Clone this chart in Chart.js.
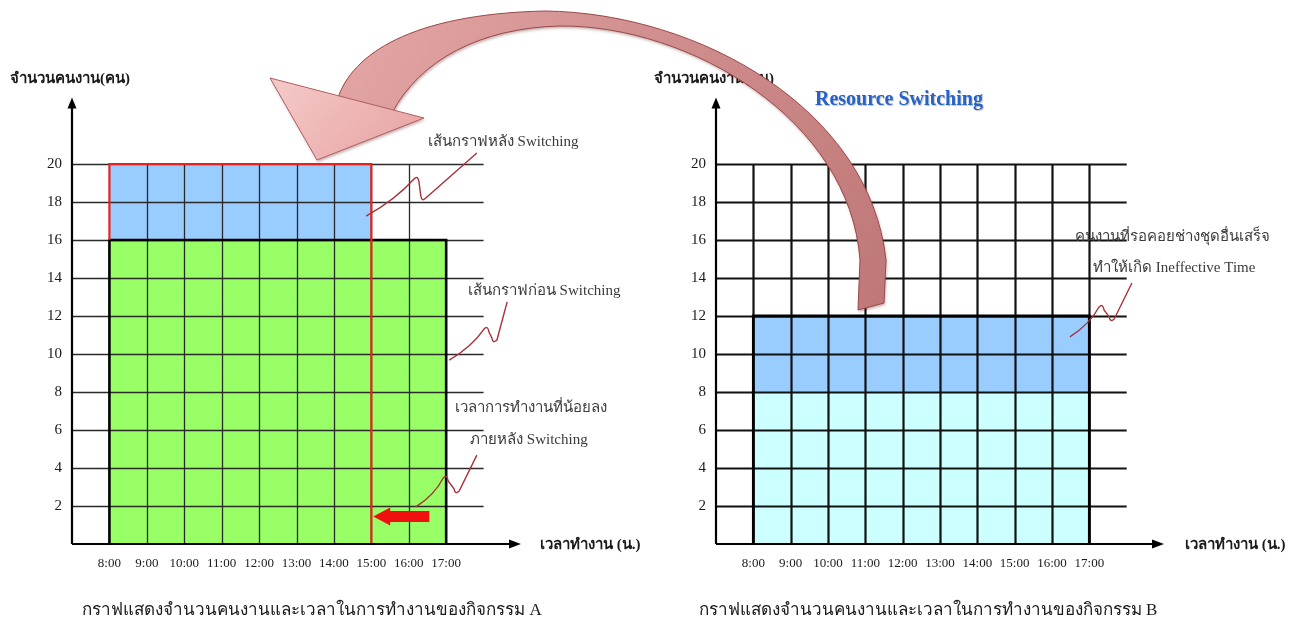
<!DOCTYPE html>
<html>
<head>
<meta charset="utf-8">
<script src="https://cdn.jsdelivr.net/npm/chart.js@4.4.1/dist/chart.umd.min.js"></script>
<style>
  html, body { margin: 0; padding: 0; background: #ffffff; }
  #stage { position: relative; width: 1298px; height: 628px; overflow: hidden; }
  #stage canvas { position: absolute; left: 0; top: 0; }
</style>
</head>
<body>
<div id="stage">
  <canvas id="chartA" width="1298" height="628"></canvas>
  <canvas id="chartB" width="1298" height="628"></canvas>
</div>
<script>
// Working hours on the x axis and crew-size ticks on the y axis
const hours = [8, 9, 10, 11, 12, 13, 14, 15, 16, 17];
const hourLabels = ['8:00', '9:00', '10:00', '11:00', '12:00', '13:00', '14:00', '15:00', '16:00', '17:00'];
const workerTicks = [2, 4, 6, 8, 10, 12, 14, 16, 18, 20];

// Activity A: crew before the switch, and the extra crew that shortens the job
const spanBeforeA = [8, 17];
const crewBeforeA = [0, 16];
const spanAfterA = [8, 15];
const crewAfterA = [16, 20];

// Activity B: crew actually working, and crew waiting on other trades
const spanB = [8, 17];
const crewWorkingB = [0, 8];
const crewIdleB = [8, 12];

const SERIF = '"Liberation Serif", "DejaVu Serif", serif';

function rectTop(span, level) {
  return [{ x: span[0], y: level }, { x: span[1], y: level }];
}
function outline(span, range) {
  return [
    { x: span[0], y: range[0] }, { x: span[0], y: range[1] },
    { x: span[1], y: range[1] }, { x: span[1], y: range[0] }
  ];
}
function fillSet(data, color, target) {
  return {
    data, fill: target, backgroundColor: color,
    borderColor: 'rgba(0,0,0,0)', borderWidth: 1, pointRadius: 0, tension: 0
  };
}
function lineSet(data, color, width) {
  return {
    data, fill: false, borderColor: color, borderWidth: width,
    pointRadius: 0, tension: 0, borderJoinStyle: 'miter', borderCapStyle: 'butt'
  };
}

// Callout leader: a rising stroke with a small N-shaped kink in it
function leader(ctx, s, pk, tr, e) {
  ctx.beginPath();
  ctx.moveTo(s[0], s[1]);
  ctx.quadraticCurveTo((s[0] + pk[0]) / 2 + 4, (s[1] + pk[1]) / 2 + 3, pk[0] - 3, pk[1] + 2);
  ctx.quadraticCurveTo(pk[0] + 1, pk[1] - 2, pk[0] + 2, pk[1] + 5);
  ctx.lineTo(tr[0] - 1, tr[1] - 4);
  ctx.quadraticCurveTo(tr[0], tr[1] + 2, tr[0] + 4, tr[1] - 2);
  ctx.lineTo(e[0], e[1]);
  ctx.stroke();
}

// Grid drawn between the fills and the outlines
const gridPlugin = {
  id: 'cellGrid',
  beforeDatasetsDraw(chart, args, opts) {
    const { ctx, scales: { x, y } } = chart;
    ctx.save();
    ctx.strokeStyle = opts.color;
    ctx.lineWidth = opts.hWidth;
    workerTicks.forEach(v => {
      const py = Math.round(y.getPixelForValue(v)) + 0.5;
      ctx.beginPath();
      ctx.moveTo(x.getPixelForValue(7), py);
      ctx.lineTo(x.getPixelForValue(18), py);
      ctx.stroke();
    });
    ctx.lineWidth = opts.vWidth;
    hours.filter(h => h >= opts.vFrom && h <= opts.vTo).forEach(h => {
      const px = Math.round(x.getPixelForValue(h)) + 0.5;
      ctx.beginPath();
      ctx.moveTo(px, y.getPixelForValue(0));
      ctx.lineTo(px, y.getPixelForValue(20));
      ctx.stroke();
    });
    ctx.restore();
  }
};

// Axis lines with arrow heads, axis titles and captions
const framePlugin = {
  id: 'frame',
  afterDraw(chart, args, opts) {
    const { ctx, chartArea: a } = chart;
    ctx.save();
    ctx.strokeStyle = '#000';
    ctx.fillStyle = '#000';
    ctx.lineWidth = 2.2;
    ctx.beginPath();
    ctx.moveTo(a.left, a.bottom);
    ctx.lineTo(a.left, a.top + 8);
    ctx.moveTo(a.left, a.bottom);
    ctx.lineTo(a.right - 10, a.bottom);
    ctx.stroke();
    ctx.beginPath();
    ctx.moveTo(a.left, a.top);
    ctx.lineTo(a.left - 4.5, a.top + 11);
    ctx.lineTo(a.left + 4.5, a.top + 11);
    ctx.closePath();
    ctx.fill();
    ctx.beginPath();
    ctx.moveTo(a.right, a.bottom);
    ctx.lineTo(a.right - 12, a.bottom - 4.5);
    ctx.lineTo(a.right - 12, a.bottom + 4.5);
    ctx.closePath();
    ctx.fill();

    ctx.fillStyle = '#1a1a1a';
    ctx.textBaseline = 'middle';
    ctx.textAlign = 'left';
    ctx.font = 'bold 15px ' + SERIF;
    ctx.fillText('จำนวนคนงาน(คน)', a.left - 62, a.top - 18);
    ctx.fillText('เวลาทำงาน (น.)', a.right + opts.xTitleGap, a.bottom + 1);

    ctx.font = '17px ' + SERIF;
    ctx.textAlign = 'center';
    ctx.fillText(opts.caption, a.left + opts.captionOffset, 611);
    ctx.restore();
  }
};

// Callout labels placed in data units
const notePlugin = {
  id: 'notes',
  afterDraw(chart, args, opts) {
    const { ctx, scales: { x, y } } = chart;
    const P = (p) => [x.getPixelForValue(p[0]), y.getPixelForValue(p[1])];
    ctx.save();
    (opts.leaders || []).forEach(l => {
      ctx.strokeStyle = '#A8313A';
      ctx.lineWidth = 1.4;
      leader(ctx, P(l[0]), P(l[1]), P(l[2]), P(l[3]));
    });
    ctx.textBaseline = 'middle';
    ctx.textAlign = 'left';
    (opts.texts || []).forEach(t => {
      ctx.font = t.font;
      ctx.fillStyle = t.color;
      const p = P(t.at);
      if (t.shadow) {
        ctx.shadowColor = 'rgba(0,0,0,0.25)';
        ctx.shadowOffsetX = 1;
        ctx.shadowOffsetY = 1;
        ctx.shadowBlur = 1;
      }
      ctx.fillText(t.text, p[0], p[1]);
      ctx.shadowColor = 'rgba(0,0,0,0)';
    });
    if (opts.cutArrow) {
      const [from, to, lvl] = opts.cutArrow;
      const tail = x.getPixelForValue(from), tip = x.getPixelForValue(to);
      const py = y.getPixelForValue(lvl);
      ctx.fillStyle = '#F01010';
      ctx.beginPath();
      ctx.moveTo(tip, py);
      ctx.lineTo(tip + 17, py - 9);
      ctx.lineTo(tip + 17, py - 5.5);
      ctx.lineTo(tail, py - 5.5);
      ctx.lineTo(tail, py + 5.5);
      ctx.lineTo(tip + 17, py + 5.5);
      ctx.lineTo(tip + 17, py + 9);
      ctx.closePath();
      ctx.fill();
    }
    ctx.restore();
  }
};

// Curved arrow carrying crew from activity B over to activity A
const transferPlugin = {
  id: 'transfer',
  afterDraw(chart) {
    const ctx = chart.ctx;
    ctx.save();
    ctx.shadowColor = 'rgba(90,20,20,0.35)';
    ctx.shadowBlur = 3;
    ctx.shadowOffsetX = 1;
    ctx.shadowOffsetY = 2;
    const body = ctx.createLinearGradient(380, 20, 880, 300);
    body.addColorStop(0, '#E2A3A3');
    body.addColorStop(0.45, '#D08E8E');
    body.addColorStop(1, '#C07878');
    ctx.beginPath();
    ctx.moveTo(338, 98);
    ctx.bezierCurveTo(352, 55, 410, 14, 545, 11);
    ctx.bezierCurveTo(700, 13, 870, 110, 886, 260);
    ctx.lineTo(884, 303);
    ctx.lineTo(858, 310);
    ctx.lineTo(860, 260);
    ctx.bezierCurveTo(850, 120, 690, 25, 560, 26);
    ctx.bezierCurveTo(480, 28, 420, 60, 392, 113);
    ctx.closePath();
    ctx.fillStyle = body;
    ctx.fill();
    ctx.shadowColor = 'rgba(0,0,0,0)';
    ctx.strokeStyle = '#9A4848';
    ctx.lineWidth = 1;
    ctx.stroke();

    ctx.shadowColor = 'rgba(90,20,20,0.35)';
    ctx.shadowBlur = 3;
    ctx.shadowOffsetY = 2;
    const head = ctx.createLinearGradient(290, 80, 380, 160);
    head.addColorStop(0, '#F4C6C6');
    head.addColorStop(1, '#E9A9A9');
    ctx.beginPath();
    ctx.moveTo(270, 78);
    ctx.lineTo(424, 118);
    ctx.lineTo(317, 160);
    ctx.closePath();
    ctx.fillStyle = head;
    ctx.fill();
    ctx.shadowColor = 'rgba(0,0,0,0)';
    ctx.strokeStyle = '#B06060';
    ctx.stroke();
    ctx.restore();
  }
};

function baseOptions(pad, grid, frame, notes) {
  return {
    responsive: false,
    animation: false,
    devicePixelRatio: 1,
    layout: { padding: pad },
    plugins: {
      legend: { display: false },
      tooltip: { enabled: false },
      filler: { drawTime: 'beforeDatasetsDraw' },
      cellGrid: grid,
      frame: frame,
      notes: notes
    },
    scales: {
      x: {
        type: 'linear', min: 7, max: 19,
        afterFit: s => { s.height = 30; },
        afterBuildTicks: s => { s.ticks = hours.map(v => ({ value: v })); },
        grid: { display: false, drawTicks: false },
        border: { display: false },
        ticks: {
          callback: v => hourLabels[hours.indexOf(v)],
          font: { family: SERIF, size: 13 }, color: '#1a1a1a',
          padding: 12, maxRotation: 0, autoSkip: false
        }
      },
      y: {
        type: 'linear', min: 0, max: 23.5,
        afterFit: s => { s.width = 72; },
        afterBuildTicks: s => { s.ticks = workerTicks.map(v => ({ value: v })); },
        grid: { display: false, drawTicks: false },
        border: { display: false },
        ticks: { font: { family: SERIF, size: 15 }, color: '#1a1a1a', padding: 10 }
      }
    }
  };
}

const NOTE_FONT = '15px ' + SERIF;

new Chart(document.getElementById('chartA'), {
  type: 'line',
  data: {
    datasets: [
      lineSet(outline(spanAfterA, [0, crewAfterA[1]]).map((p, i) => i === 0 ? { x: p.x, y: crewAfterA[0] } : p), '#E8231F', 2.2),
      lineSet(outline(spanBeforeA, crewBeforeA), '#000000', 2.6),
      fillSet(rectTop(spanAfterA, crewAfterA[1]), '#99CCFF', { value: crewAfterA[0] }),
      fillSet(rectTop(spanBeforeA, crewBeforeA[1]), '#99FF66', 'origin')
    ]
  },
  options: baseOptions(
    { left: 0, right: 777, top: 97.5, bottom: 54 },
    { color: '#2a2a2a', hWidth: 1.4, vWidth: 1.3, vFrom: 9, vTo: 16 },
    { caption: 'กราฟแสดงจำนวนคนงานและเวลาในการทำงานของกิจกรรม A', captionOffset: 240, xTitleGap: 19 },
    {
      leaders: [
        [[14.86, 17.26], [16.22, 19.32], [16.35, 18.1], [17.82, 20.58]],
        [[17.08, 9.68], [18.09, 11.42], [18.25, 10.63], [18.63, 12.74]],
        [[16.19, 1.95], [17.0, 3.58], [17.24, 2.68], [17.82, 4.68]]
      ],
      texts: [
        { text: 'เส้นกราฟหลัง Switching', at: [16.51, 21.16], font: NOTE_FONT, color: '#3a3a3a' },
        { text: 'เส้นกราฟก่อน Switching', at: [17.58, 13.32], font: NOTE_FONT, color: '#3a3a3a' },
        { text: 'เวลาการทำงานที่น้อยลง', at: [17.24, 7.16], font: NOTE_FONT, color: '#3a3a3a' },
        { text: 'ภายหลัง Switching', at: [17.64, 5.47], font: NOTE_FONT, color: '#3a3a3a' }
      ],
      cutArrow: [16.55, 15.05, 1.45]
    }
  ),
  plugins: [gridPlugin, framePlugin, notePlugin]
});

new Chart(document.getElementById('chartB'), {
  type: 'line',
  data: {
    datasets: [
      lineSet(outline(spanB, [crewWorkingB[0], crewIdleB[1]]), '#000000', 2.8),
      fillSet(rectTop(spanB, crewIdleB[1]), '#99CCFF', { value: crewIdleB[0] }),
      fillSet(rectTop(spanB, crewWorkingB[1]), '#CCFFFF', 'origin')
    ]
  },
  options: baseOptions(
    { left: 644, right: 134, top: 97.5, bottom: 54 },
    { color: '#111111', hWidth: 2.2, vWidth: 2.2, vFrom: 8, vTo: 17 },
    { caption: 'กราฟแสดงจำนวนคนงานและเวลาในการทำงานของกิจกรรม B', captionOffset: 212, xTitleGap: 21 },
    {
      leaders: [
        [[16.48, 10.9], [17.34, 12.58], [17.56, 11.74], [18.14, 13.74]]
      ],
      texts: [
        { text: 'Resource Switching', at: [9.65, 23.37], font: 'bold 20px ' + SERIF, color: '#2563C8', shadow: true },
        { text: 'คนงานที่รอคอยช่างชุดอื่นเสร็จ', at: [16.62, 16.16], font: NOTE_FONT, color: '#3a3a3a' },
        { text: 'ทำให้เกิด Ineffective Time', at: [17.1, 14.53], font: NOTE_FONT, color: '#3a3a3a' }
      ]
    }
  ),
  plugins: [gridPlugin, framePlugin, notePlugin, transferPlugin]
});
</script>
</body>
</html>
